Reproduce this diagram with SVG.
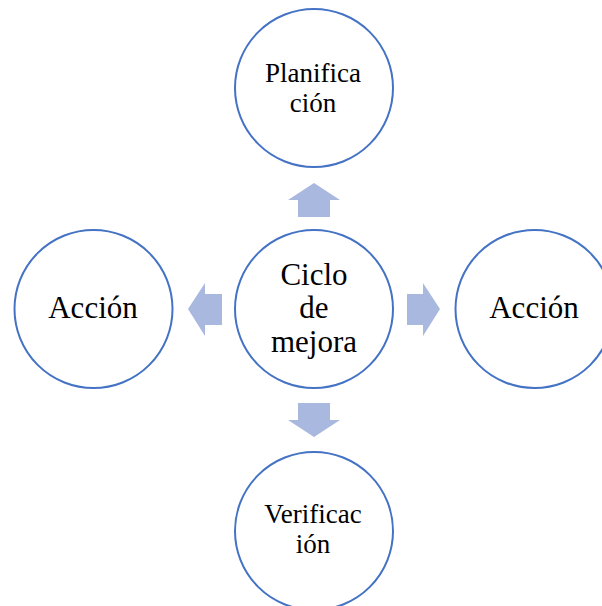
<svg xmlns="http://www.w3.org/2000/svg" width="602" height="606" viewBox="0 0 602 606">
<style>
.node circle{fill:#ffffff;stroke:#4472C4;stroke-width:2}
.t{font-family:"Liberation Serif","Times New Roman",serif;fill:#000;text-anchor:middle}
.s{font-size:27px}
.l{font-size:31px}
.arr{fill:#A9B8DF}
</style>
<rect width="602" height="606" fill="#ffffff"/>
<g id="connectors">
<polygon class="arr" points="314,183 340,200 330,200 330,217 298,217 298,200 288,200"/>
<polygon class="arr" points="314,437 340,420 330,420 330,403 298,403 298,420 288,420"/>
<polygon class="arr" points="188,309 205,283 205,294 222,294 222,325 205,325 205,336"/>
<polygon class="arr" points="440,309 423,283 423,294 407,294 407,325 423,325 423,336"/>
</g>
<g id="center" class="node">
<circle cx="314" cy="309" r="79"/>
<text class="t l" x="314" y="285">Ciclo</text>
<text class="t l" x="314" y="318">de</text>
<text class="t l" x="314" y="352">mejora</text>
</g>
<g id="planificacion" class="node">
<circle cx="314" cy="88" r="79"/>
<text class="t s" x="313" y="82">Planifica</text>
<text class="t s" x="313" y="112">ción</text>
</g>
<g id="verificacion" class="node">
<circle cx="314" cy="531" r="79"/>
<text class="t s" x="313" y="523">Verificac</text>
<text class="t s" x="313" y="553">ión</text>
</g>
<g id="accion-left" class="node">
<circle cx="93.5" cy="309" r="79"/>
<text class="t l" x="93" y="318">Acción</text>
</g>
<g id="accion-right" class="node">
<circle cx="534.5" cy="309" r="79"/>
<text class="t l" x="534" y="318">Acción</text>
</g>
</svg>
